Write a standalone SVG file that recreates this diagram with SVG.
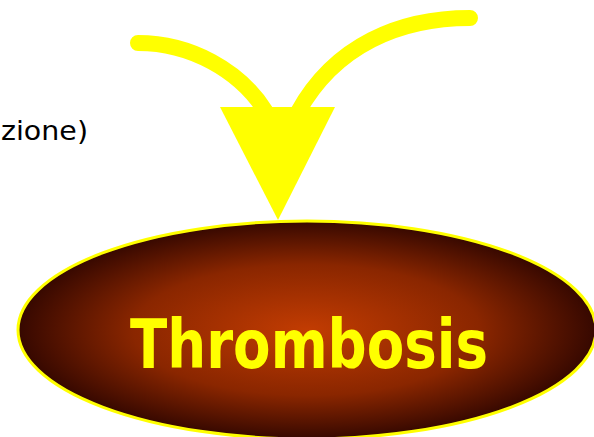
<svg xmlns="http://www.w3.org/2000/svg" width="594" height="437" viewBox="0 0 594 437">
<defs>
<radialGradient id="g" cx="0.5" cy="0.5" r="0.5">
<stop offset="0" stop-color="#C23C02"/>
<stop offset="0.6" stop-color="#8A2600"/>
<stop offset="1" stop-color="#360800"/>
</radialGradient>
</defs>
<style>
.arc{fill:none;stroke:#FFFF00;stroke-width:16;stroke-linecap:round}
.head{fill:#FFFF00}
.lbl{font-family:"DejaVu Sans",sans-serif;fill:#000}
.title{font-family:"DejaVu Sans",sans-serif;font-weight:bold;fill:#FFFF00}
</style>
<rect width="594" height="437" fill="#fff"/>
<g id="label-zione">
<text class="lbl" x="1" y="140" font-size="27" textLength="87" lengthAdjust="spacingAndGlyphs">zione)</text>
</g>
<g id="connectors">
<path class="arc" d="M138,43 C190,43 240,70 266,112"/>
<path class="arc" d="M470,18 C400,18 335,45 298,112"/>
<polygon class="head" points="220,107 335,107 278,220"/>
</g>
<g id="node-thrombosis">
<ellipse cx="307" cy="330" rx="289" ry="109" fill="url(#g)" stroke="#FFFF00" stroke-width="3"/>
<text class="title" x="130" y="368" font-size="68" textLength="358" lengthAdjust="spacingAndGlyphs">Thrombosis</text>
</g>
</svg>
